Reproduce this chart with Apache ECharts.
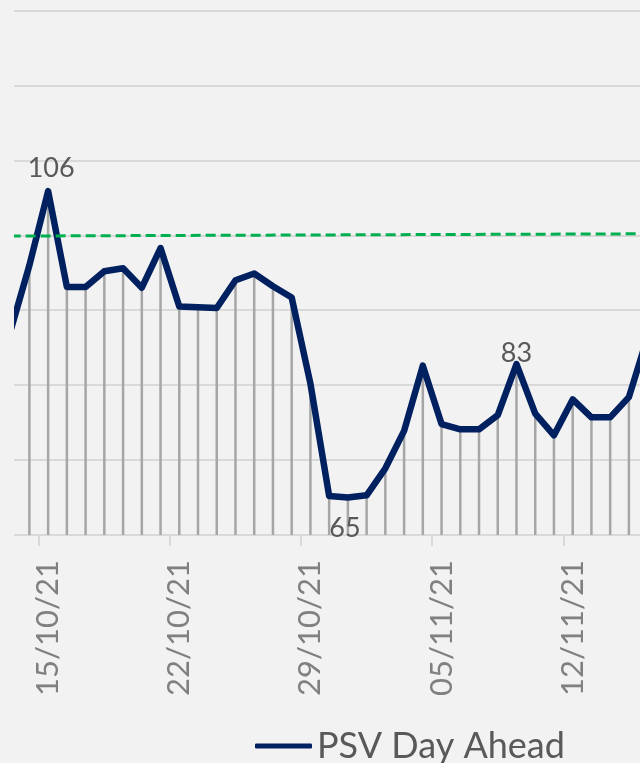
<!DOCTYPE html>
<html>
<head>
<meta charset="utf-8">
<script src="https://cdn.jsdelivr.net/npm/echarts@6/dist/echarts.min.js"></script>
<style>
html,body{margin:0;padding:0;background:#F2F2F2;overflow:hidden;width:640px;height:763px;}
#c{width:657px;height:763px;}
</style>
</head>
<body>
<div id="c"></div>
<script>
// ---- data ----
const categories = [
  '13/10/21','14/10/21','15/10/21','16/10/21','17/10/21','18/10/21','19/10/21','20/10/21',
  '21/10/21','22/10/21','23/10/21','24/10/21','25/10/21','26/10/21','27/10/21','28/10/21',
  '29/10/21','30/10/21','31/10/21','01/11/21','02/11/21','03/11/21','04/11/21','05/11/21',
  '06/11/21','07/11/21','08/11/21','09/11/21','10/11/21','11/11/21','12/11/21','13/11/21',
  '14/11/21','15/11/21','16/11/21'
];
const psvDayAhead = [
  87.3, 96.0, 105.9, 93.1, 93.1, 95.2, 95.6, 93.0,
  98.3, 90.5, 90.4, 90.3, 94.0, 94.9, 93.2, 91.7,
  80.2, 65.2, 65.0, 65.3, 68.9, 73.9, 82.6, 74.8,
  74.1, 74.1, 76.0, 82.8, 76.2, 73.3, 78.1, 75.7,
  75.7, 78.4, 86.5
];
// green dashed reference line: start and end values
const referenceStart = 99.9;
const referenceEnd = 100.2;
const tickLabels = ['15/10/21','22/10/21','29/10/21','05/11/21','12/11/21'];
const labelledDates = ['15/10/21','31/10/21','09/11/21'];
const yMin = 60, yMax = 130, yStep = 10;

// ---- styles for labelled points ----
const labelStyleFor = {
  '15/10/21': {position:'top', distance: 8, offset:[3,0]},
  '31/10/21': {position:'bottom', distance: 16, offset:[-3,0]},
  '09/11/21': {position:'top', distance: -4, offset:[0,0]}
};

const lineData = psvDayAhead.map((v, i) => {
  const d = categories[i];
  if (labelledDates.includes(d)) {
    const s = labelStyleFor[d];
    return {
      value: v,
      label: {
        show: true, position: s.position, distance: s.distance, offset: s.offset,
        formatter: p => String(Math.round(p.value)),
        fontFamily: 'Lato', fontSize: 27, color: '#595959'
      }
    };
  }
  return v;
});

const refData = categories.map((d, i) =>
  i === 0 ? referenceStart : (i === categories.length - 1 ? referenceEnd : null));

const chart = echarts.init(document.getElementById('c'), null, {renderer: 'canvas'});
chart.setOption({
  animation: false,
  backgroundColor: '#F2F2F2',
  grid: {left: 1.3, right: 0, top: 10.5, bottom: 228, containLabel: false},
  legend: {
    data: ['PSV Day Ahead'],
    left: 250, top: 723,
    icon: 'roundRect', itemWidth: 57, itemHeight: 5, itemGap: 20,
    textStyle: {fontFamily: 'Lato', fontSize: 36, color: '#595959'}
  },
  xAxis: {
    type: 'category',
    data: categories,
    boundaryGap: true,
    axisLine: {lineStyle: {color: '#D9D9D9', width: 2}},
    axisTick: {show: true, length: 11, interval: (i, v) => tickLabels.includes(v),
      lineStyle: {color: '#D9D9D9', width: 2}},
    axisLabel: {rotate: 90, margin: 25, interval: (i, v) => tickLabels.includes(v),
      padding: [0, 0, 10, 0],
      fontFamily: 'Lato', fontSize: 31, color: '#808080'},
    splitLine: {show: false}
  },
  yAxis: {
    type: 'value', min: yMin, max: yMax, interval: yStep,
    axisLine: {show: false}, axisTick: {show: false}, axisLabel: {show: false},
    splitLine: {lineStyle: {color: '#D9D9D9', width: 2}}
  },
  graphic: [{
    type: 'rect', left: 0, top: 0, z: 100,
    shape: {width: 14, height: 540},
    style: {fill: '#F2F2F2'}
  }],
  series: [
    {
      name: 'drop', type: 'bar', data: psvDayAhead, barWidth: 2.5, silent: true, z: 1,
      itemStyle: {color: '#A6A6A6'}, clip: true
    },
    {
      name: 'PSV Day Ahead', type: 'line', data: lineData,
      symbol: 'circle', symbolSize: 2, showSymbol: true, z: 3,
      lineStyle: {color: '#002060', width: 6.5, cap: 'round', join: 'round'},
      itemStyle: {color: '#002060'}
    },
    {
      name: 'Riferimento', type: 'line', data: refData, connectNulls: true, symbol: 'none', z: 4,
      lineStyle: {color: '#00B050', width: 3, type: [10, 5]},
      itemStyle: {color: '#00B050'}
    }
  ]
});
</script>
</body>
</html>
